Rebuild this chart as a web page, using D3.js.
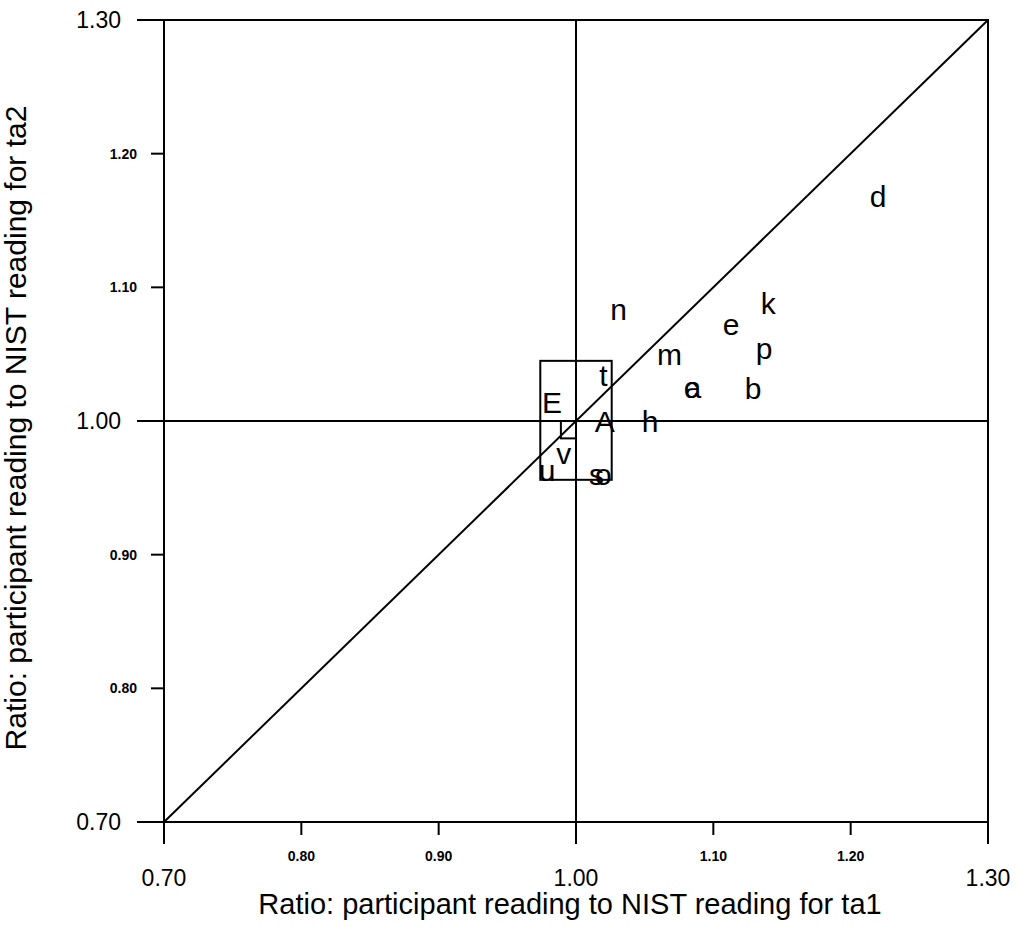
<!DOCTYPE html>
<html>
<head>
<meta charset="utf-8">
<script src="https://cdn.jsdelivr.net/npm/d3@7"></script>
<style>
body{margin:0;background:#fff;}
text{font-family:"Liberation Sans",Arial,sans-serif;fill:#000;}
</style>
</head>
<body>
<div id="plotdiv"></div>
<script>
// participant codes and their ratios (ta1, ta2)
var codes = ["d","k","n","e","m","p","a","c","b","t","E","A","h","v","u","s","o"];
var ta1   = [1.220,1.140,1.031,1.113,1.068,1.137,1.085,1.084,1.129,1.020,0.9825,1.021,1.054,0.991,0.979,1.015,1.020];
var ta2   = [1.167,1.087,1.082,1.071,1.049,1.053,1.024,1.024,1.023,1.033,1.0127,0.9985,0.9985,0.9746,0.9618,0.9589,0.9589];

var majorTicks = [0.70,1.00,1.30];
var minorTicks = [0.80,0.90,1.10,1.20];

// reference boxes [x0,x1,y0,y1]
var bigBox   = [0.974,1.026,0.956,1.045];
var smallBox = [0.989,1.000,0.987,1.000];

var width = 1020, height = 930;
var fmt = d3.format(".2f");

var svg = d3.select("#plotdiv").append("svg")
	.attr("width",width)
	.attr("height",height);

var x = d3.scaleLinear().domain([0.70,1.30]).range([164,988]);
var y = d3.scaleLinear().domain([0.70,1.30]).range([822,20]);

function line(x1,y1,x2,y2){
	svg.append("line")
		.attr("x1",x1).attr("y1",y1).attr("x2",x2).attr("y2",y2)
		.attr("stroke","#000")
		.attr("stroke-width",2);
}

// frame
svg.append("rect")
	.attr("x",x(0.70)).attr("y",y(1.30))
	.attr("width",x(1.30)-x(0.70))
	.attr("height",y(0.70)-y(1.30))
	.attr("fill","none")
	.attr("stroke","#000")
	.attr("stroke-width",2);

// left axis ticks
majorTicks.forEach(function(t){ line(x(0.70)-27,y(t),x(0.70),y(t)); });
minorTicks.forEach(function(t){ line(x(0.70)-13,y(t),x(0.70),y(t)); });
// bottom axis ticks
majorTicks.forEach(function(t){ line(x(t),y(0.70),x(t),y(0.70)+22); });
minorTicks.forEach(function(t){ line(x(t),y(0.70),x(t),y(0.70)+13); });

svg.selectAll("text.ymaj").data(majorTicks).enter().append("text")
	.attr("x",121)
	.attr("y",function(t){return y(t)+8;})
	.attr("text-anchor","end")
	.style("font-size","23px")
	.text(fmt);
svg.selectAll("text.ymin").data(minorTicks).enter().append("text")
	.attr("x",137)
	.attr("y",function(t){return y(t)+5;})
	.attr("text-anchor","end")
	.style("font-size","14px")
	.style("font-weight","bold")
	.text(fmt);
svg.selectAll("text.xmaj").data(majorTicks).enter().append("text")
	.attr("x",function(t){return x(t);})
	.attr("y",886)
	.attr("text-anchor","middle")
	.style("font-size","23px")
	.text(fmt);
svg.selectAll("text.xmin").data(minorTicks).enter().append("text")
	.attr("x",function(t){return x(t);})
	.attr("y",861)
	.attr("text-anchor","middle")
	.style("font-size","14px")
	.style("font-weight","bold")
	.text(fmt);

// reference lines through 1.00 and the diagonal
line(x(1.00),y(0.70),x(1.00),y(1.30));
line(x(0.70),y(1.00),x(1.30),y(1.00));
line(x(0.70),y(0.70),x(1.30),y(1.30));

// boxes
[bigBox,smallBox].forEach(function(b){
	svg.append("rect")
		.attr("x",x(b[0])).attr("y",y(b[3]))
		.attr("width",x(b[1])-x(b[0]))
		.attr("height",y(b[2])-y(b[3]))
		.attr("fill","none")
		.attr("stroke","#000")
		.attr("stroke-width",2);
});

// participant letters
svg.selectAll("text.pt").data(codes).enter().append("text")
	.attr("x",function(d,i){return x(ta1[i]);})
	.attr("y",function(d,i){return y(ta2[i]);})
	.attr("dy","0.3em")
	.attr("text-anchor","middle")
	.style("font-size","30px")
	.text(function(d){return d;});

// axis titles
svg.append("text")
	.attr("x",570).attr("y",914)
	.attr("text-anchor","middle")
	.style("font-size","29px")
	.text("Ratio: participant reading to NIST reading for ta1");
svg.append("text")
	.attr("transform","translate(26,428) rotate(-90)")
	.attr("text-anchor","middle")
	.style("font-size","30px")
	.text("Ratio: participant reading to NIST reading for ta2");
</script>
</body>
</html>
